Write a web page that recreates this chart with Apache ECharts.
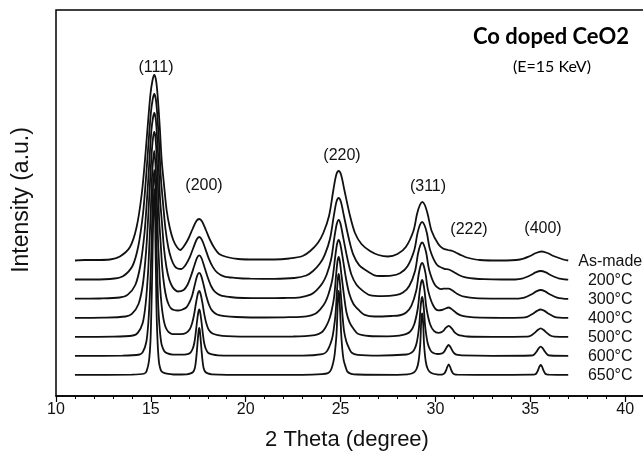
<!DOCTYPE html>
<html>
<head>
<meta charset="utf-8">
<script src="https://cdn.jsdelivr.net/npm/echarts@6/dist/echarts.min.js"></script>
<style>
html, body { margin: 0; padding: 0; background: #fff; }
#main { width: 643px; height: 452px; }
</style>
</head>
<body>
<div id="main"></div>
<script>
// XRD patterns, [2 theta, intensity above the curve's own baseline]
var asMade = [[11,0.5],[11.5,1],[12,1],[12.85,1.5],[13.37,4.5],[13.9,14],[14.25,34],[14.52,67],[14.69,101],[14.83,134],[14.98,167],[15.09,181],[15.18,186],[15.27,181],[15.35,167],[15.47,134],[15.57,101],[15.7,75],[15.83,51],[16.0,33],[16.18,21],[16.37,14],[16.55,11],[16.75,15],[16.97,22],[17.2,32],[17.4,40],[17.55,42],[17.7,39.5],[17.9,31],[18.12,21],[18.35,13],[18.6,7],[19.0,4],[19.6,2],[20.5,1.5],[21.5,1.5],[22.3,2.5],[23.0,5],[23.4,10],[23.8,18],[24.09,28],[24.39,45],[24.62,71],[24.77,86],[24.9,90],[25.03,86],[25.2,71],[25.5,45],[25.76,28],[26.1,17],[26.55,10],[27.0,6],[27.5,4.5],[28.0,7],[28.44,14],[28.84,30],[29.03,47],[29.18,56],[29.31,59],[29.44,56],[29.59,47],[29.8,30],[30.15,17],[30.4,12.5],[30.66,11],[30.9,10],[31.12,8],[31.4,5.5],[31.65,3.5],[32.35,1],[33.4,0.5],[34.46,1.5],[34.99,5],[35.3,8],[35.6,9.5],[35.9,8],[36.22,5],[36.74,1.5],[37,0.5]];
var c200 = [[11,0.5],[12,0.5],[13.08,1.5],[13.55,4],[14.03,14],[14.34,34],[14.59,67],[14.74,101],[14.865,134],[15.0,167],[15.1,181],[15.18,186],[15.26,181],[15.33,167.5],[15.44,134.5],[15.53,101.5],[15.65,75],[15.765,52],[15.92,32.5],[16.08,21],[16.25,14],[16.41,11.5],[16.605,11],[16.83,15],[17.04,22.3],[17.235,32],[17.415,40.5],[17.55,43],[17.685,40.3],[17.865,31.6],[18.06,21.2],[18.27,12.9],[18.5,7.4],[18.85,3.7],[19.4,2.2],[20.25,1.3],[21.5,1.2],[22.56,2],[23.19,4.5],[23.55,9],[23.91,16.4],[24.17,25.4],[24.44,41],[24.65,64.8],[24.78,78],[24.9,82],[25.02,78],[25.17,64.8],[25.44,41],[25.67,25.4],[25.98,14.8],[26.39,9],[26.79,4.6],[27.05,4],[27.68,4.4],[28.13,6.8],[28.52,13.5],[28.88,29.5],[29.05,46.4],[29.18,55],[29.3,58],[29.42,55],[29.55,47],[29.72,30],[30.08,15.2],[30.47,11.2],[30.7,10.5],[31.02,7.3],[31.21,5.2],[31.42,3.5],[31.65,2.4],[32.0,1.5],[32.55,0.8],[33.5,0.5],[34.2,0.5],[34.56,1.3],[35.01,4.8],[35.28,7.6],[35.55,9],[35.82,7.6],[36.09,4.8],[36.54,1.3],[36.9,0.5],[37,0.3]];
var c300 = [[11,0.3],[12.3,0.5],[13.36,1.5],[13.77,4.1],[14.18,14],[14.45,34],[14.67,67],[14.8,101],[14.91,134],[15.02,167],[15.11,181],[15.18,186],[15.25,181],[15.31,167.5],[15.41,134.5],[15.48,101.5],[15.59,75],[15.69,51],[15.82,32],[15.96,20],[16.11,13],[16.25,9.5],[16.42,7.5],[16.73,9.1],[16.926,14],[17.1,22.2],[17.277,32.5],[17.433,41.2],[17.55,43.6],[17.667,41],[17.823,32],[18.0,21.5],[18.174,13],[18.37,7.3],[18.68,3.6],[19.15,2],[19.89,1],[21,0.8],[22.0,1],[22.87,1.7],[23.42,4.3],[23.73,8.7],[24.04,15.8],[24.27,24.5],[24.5,39.5],[24.68,62.4],[24.8,75],[24.9,79],[25.0,75],[25.13,62.4],[25.37,39.5],[25.57,24.5],[25.84,14.2],[26.19,7.9],[26.54,3.9],[27.2,2.8],[27.9,3.8],[28.29,6.4],[28.62,13],[28.93,28.3],[29.08,45.2],[29.2,53.7],[29.3,56.5],[29.4,53.7],[29.52,45.7],[29.67,29],[29.98,13.9],[30.31,9.8],[30.43,10.3],[30.7,10.3],[30.97,7.5],[31.14,5.3],[31.32,3.5],[31.52,2.3],[31.83,1.4],[32.3,0.7],[33.5,0.3],[34.38,0.45],[34.69,1.3],[35.08,4.8],[35.32,7.6],[35.55,9],[35.78,7.6],[36.02,4.8],[36.41,1.3],[36.72,0.45],[37,0.2]];
var c400 = [[11,0.2],[12.5,0.4],[13.67,1.5],[14.0,4.1],[14.35,14],[14.58,34],[14.75,67],[14.86,101],[14.95,134],[15.05,167],[15.12,181],[15.18,186],[15.24,181],[15.29,167],[15.37,134],[15.43,101],[15.52,74],[15.6,50],[15.71,31.5],[15.83,19.5],[15.95,13],[16.07,9.5],[16.22,8],[16.42,7.5],[16.61,8],[16.87,10.5],[17.03,15.5],[17.18,22.6],[17.32,33.5],[17.45,42.7],[17.55,45.2],[17.65,42.4],[17.78,33.2],[17.92,22],[18.07,13],[18.23,7.3],[18.49,3.5],[18.88,1.9],[19.5,1],[21,0.5],[22.3,0.8],[23.21,1.7],[23.67,4.3],[23.93,8.6],[24.19,15.6],[24.37,24.2],[24.57,39],[24.72,61.6],[24.815,74],[24.9,78],[24.985,74],[25.1,61.6],[25.29,39],[25.46,24.2],[25.68,14],[25.97,7.8],[26.27,3.1],[26.8,1.5],[27.68,2],[28.13,2.75],[28.46,5.5],[28.73,12.1],[28.99,27.5],[29.12,44],[29.215,52.3],[29.3,55],[29.385,52.3],[29.48,44.3],[29.61,27.9],[29.87,13],[30.15,7.6],[30.33,8],[30.47,9],[30.7,10.5],[30.93,7.8],[31.07,5.5],[31.22,3.6],[31.38,2.3],[31.64,1.4],[32.03,0.6],[33.5,0.2],[34.57,0.4],[34.84,1.2],[35.16,4.5],[35.36,7.1],[35.55,8.5],[35.75,7.1],[35.94,4.5],[36.27,1.2],[36.53,0.4],[37,0.1]];
var c500 = [[11,0.2],[13,0.4],[14.06,1.5],[14.31,4.1],[14.57,14],[14.73,34],[14.86,67],[14.94,101],[15.01,134],[15.08,167],[15.18,186],[15.26,167],[15.32,134],[15.37,101],[15.43,74],[15.49,50],[15.57,31],[15.66,18.6],[15.75,11.2],[15.84,7.4],[15.95,4.7],[16.14,2.8],[16.57,2.8],[16.85,4],[17.05,7.7],[17.17,13.5],[17.28,22.5],[17.38,34],[17.48,43.5],[17.55,46],[17.62,43.3],[17.72,33.8],[17.82,22.3],[17.93,13.2],[18.05,7.3],[18.25,3.4],[18.53,1.9],[18.99,0.9],[20.5,0.4],[22.5,0.5],[23.65,1.8],[23.99,4.4],[24.18,8.8],[24.37,16],[24.51,24.8],[24.66,40],[24.77,63.2],[24.84,76],[24.9,80],[24.96,76],[25.04,63.2],[25.19,40],[25.31,24.8],[25.48,14.4],[25.69,8],[25.91,3.2],[26.5,1],[27.5,0.6],[28.1,1.4],[28.44,2.85],[28.68,5.7],[28.88,12.5],[29.07,28.5],[29.17,45.6],[29.24,54],[29.3,57],[29.36,54],[29.43,45.6],[29.53,28.5],[29.72,12.8],[29.92,6.2],[30.16,4.2],[30.32,4.8],[30.43,6.4],[30.53,8.8],[30.7,11.2],[30.87,8.3],[30.97,5.7],[31.08,3.6],[31.2,2.2],[31.4,1.3],[31.68,0.5],[33,0.2],[34.83,0.4],[35.02,1.2],[35.26,4.6],[35.41,7.3],[35.55,8.7],[35.69,7.3],[35.84,4.6],[36.08,1.2],[36.27,0.4],[37,0.1]];
var c600 = [[11,0.1],[13.5,0.3],[14.41,1.5],[14.58,4.1],[14.76,14],[14.87,34],[14.96,67],[15.02,101],[15.065,134],[15.11,167],[15.18,186],[15.24,167],[15.28,134],[15.31,101],[15.35,74],[15.39,50],[15.45,31],[15.51,18.6],[15.57,11.2],[15.71,4.7],[15.84,2.8],[16.17,1.3],[16.87,1.6],[17.07,3],[17.2,7],[17.29,13],[17.36,22.3],[17.43,34],[17.5,43.7],[17.55,46.5],[17.6,43.7],[17.67,34],[17.74,22.3],[17.81,13],[17.9,7],[18.03,3],[18.23,1.6],[18.54,0.7],[20,0.3],[23,0.3],[24.04,1.8],[24.27,4.5],[24.4,9],[24.54,16.4],[24.63,25.4],[24.73,41],[24.81,64.8],[24.86,78],[24.9,82],[24.94,78],[25.0,64.8],[25.1,41],[25.18,25.4],[25.3,14.8],[25.44,8.2],[25.59,3.3],[25.9,1.2],[27,0.4],[28.48,1.5],[28.71,3],[28.87,5.9],[29.01,13],[29.14,29.5],[29.21,47.2],[29.26,56],[29.3,59],[29.34,56],[29.39,47.2],[29.46,29.5],[29.59,13],[29.73,5.9],[29.89,3],[30.13,2],[30.35,2.7],[30.44,3.9],[30.51,5.8],[30.58,8.3],[30.7,11],[30.82,8.1],[30.89,5.4],[30.96,3.4],[31.05,1.9],[31.18,1.1],[31.38,0.6],[33,0.2],[35.06,0.5],[35.19,1.3],[35.35,4.9],[35.45,7.8],[35.55,9.3],[35.65,7.8],[35.75,4.9],[35.91,1.3],[36.05,0.5],[37,0.1]];
var c650 = [[11,0.1],[14,0.3],[14.67,1.5],[14.78,4.1],[14.9,14],[14.98,34],[15.03,67],[15.07,101],[15.1,134],[15.14,167],[15.18,186],[15.22,167],[15.24,134],[15.27,101],[15.29,74],[15.32,50],[15.36,31],[15.4,18.6],[15.44,11.2],[15.53,4.7],[15.62,2.8],[15.84,1.3],[16.2,0.5],[16.89,0.7],[17.1,1.6],[17.23,3.1],[17.32,7],[17.37,13.2],[17.42,22.6],[17.47,34.3],[17.517,44.2],[17.55,47],[17.583,44.2],[17.63,34.3],[17.68,22.6],[17.73,13.2],[17.78,7],[17.87,3.1],[18.0,1.6],[18.21,0.7],[20,0.2],[23,0.2],[24.02,0.8],[24.33,1.8],[24.48,4.6],[24.57,9.2],[24.66,16.8],[24.72,26],[24.79,42],[24.84,66.4],[24.87,80],[24.9,84],[24.93,80],[24.97,66.4],[25.03,42],[25.09,26],[25.16,15.1],[25.26,8.4],[25.36,3.4],[25.56,1.2],[25.9,0.5],[28,0.2],[28.53,0.6],[28.75,1.5],[28.9,3.1],[29.01,6.2],[29.11,13.5],[29.2,30.8],[29.24,49.2],[29.27,58.4],[29.3,61.5],[29.33,58.4],[29.36,49.2],[29.4,30.8],[29.49,13.5],[29.59,6.2],[29.7,3.1],[29.85,1.5],[30.07,0.6],[30.25,0.4],[30.38,0.7],[30.47,1.6],[30.52,3],[30.57,5.1],[30.62,7.8],[30.7,10.7],[30.78,7.8],[30.83,5.1],[30.88,3],[30.93,1.6],[31.02,0.7],[31.15,0.4],[33,0.1],[35.11,0.3],[35.22,0.5],[35.31,1.4],[35.42,5.3],[35.48,8.4],[35.55,10],[35.62,8.4],[35.68,5.3],[35.79,1.4],[35.88,0.5],[35.99,0.3],[37,0.1]];

var seriesNames = ['As-made', '200°C', '300°C', '400°C', '500°C', '600°C', '650°C'];
// vertical shift of each pattern (a.u.)
var seriesOffsets = [135, 116, 97, 78, 59, 40, 21];
var peakNames = ['(111)', '(200)', '(220)', '(311)', '(222)', '(400)'];

var chart = echarts.init(document.getElementById('main'));
var curves = [asMade, c200, c300, c400, c500, c600, c650];
var txt = '#111';
var font = '"Liberation Sans", Arial, sans-serif';

// where the peak names sit, px
var peakLabelPos = [[156, 68], [204, 186], [342, 156], [428, 187], [469, 230], [543, 229]];

var graphics = peakNames.map(function (name, i) {
    return {
        type: 'text', x: peakLabelPos[i][0], y: peakLabelPos[i][1], silent: true,
        style: { text: name, font: '16px ' + font, fill: txt, align: 'center', verticalAlign: 'middle' }
    };
});
graphics.push({
    type: 'text', x: 551, y: 37,
    style: { text: 'Co doped CeO2', font: 'bold 22px Lato, "Open Sans", sans-serif', fill: '#000', align: 'center', verticalAlign: 'middle' }
});
graphics.push({
    type: 'text', x: 552, y: 67,
    style: { text: '(E=15 KeV)', font: '16px Lato, "Open Sans", sans-serif', fill: '#000', align: 'center', verticalAlign: 'middle' }
});
graphics.push({
    type: 'text', x: 347, y: 440,
    style: { text: '2 Theta (degree)', font: '22px ' + font, fill: txt, align: 'center', verticalAlign: 'middle' }
});
graphics.push({
    type: 'text', x: 22, y: 200, rotation: Math.PI / 2,
    style: { text: 'Intensity (a.u.)', font: '23px ' + font, fill: txt, align: 'center', verticalAlign: 'middle' }
});

var option = {
    animation: false,
    backgroundColor: '#fff',
    grid: {
        left: 56, right: -77, top: 10, bottom: 56,
        show: true, borderColor: '#000', borderWidth: 1.5,
        containLabel: false, outerBoundsMode: 'none'
    },
    xAxis: {
        type: 'value', min: 10, max: 45, interval: 5,
        axisLine: { onZero: false, lineStyle: { color: '#000', width: 1.5 } },
        axisTick: { length: 6, lineStyle: { color: '#000', width: 1.2 } },
        minorTick: { show: true, splitNumber: 5, length: 3, lineStyle: { color: '#000', width: 1 } },
        axisLabel: { color: txt, fontSize: 16, fontFamily: font, margin: 6 },
        splitLine: { show: false },
        minorSplitLine: { show: false }
    },
    yAxis: { type: 'value', min: 0, max: 386, show: false, splitLine: { show: false } },
    graphic: graphics,
    series: curves.map(function (pts, i) {
        return {
            name: seriesNames[i],
            type: 'line',
            showSymbol: false,
            smooth: 0.3,
            silent: true,
            data: pts.map(function (p) { return [p[0], p[1] + seriesOffsets[i]]; }),
            lineStyle: { color: '#111', width: 1.8 }
        };
    })
};
chart.setOption(option);

// curve names sit right of each curve's last point, at its baseline
var nameGraphics = seriesNames.map(function (name, i) {
    var last = curves[i][curves[i].length - 1];
    var pt = chart.convertToPixel({ gridIndex: 0 }, [last[0], seriesOffsets[i]]);
    return {
        type: 'text', x: pt[0] + 42, y: pt[1] + 1, silent: true,
        style: { text: name, font: '16px ' + font, fill: txt, align: 'center', verticalAlign: 'middle' }
    };
});
chart.setOption({ graphic: graphics.concat(nameGraphics) });
</script>
</body>
</html>
